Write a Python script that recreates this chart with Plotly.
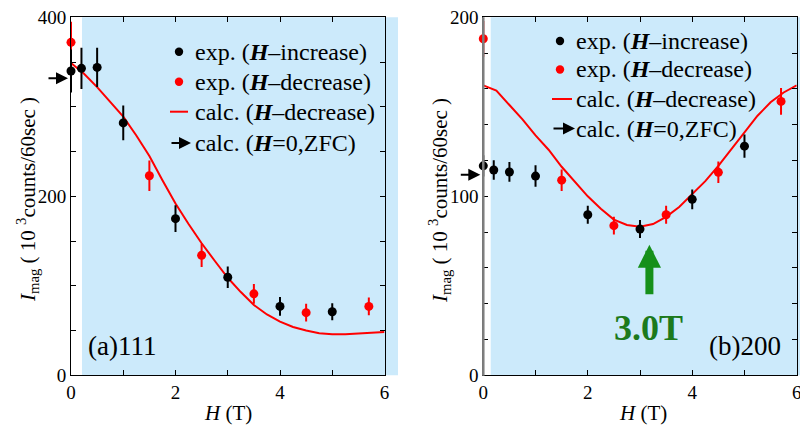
import plotly.graph_objects as go

W, H = 800, 426
FONT = "Liberation Serif"

# ---------------- data: panel (a) 111 ----------------
a_inc_x = [0, 0.2, 0.5, 1, 2, 3, 4, 5]
a_inc_y = [340, 343, 344, 282, 175, 109.5, 77, 71]
a_inc_err = [24, 23, 22, 19.5, 15, 12, 10.5, 9.5]

a_dec_x = [0, 1.5, 2.5, 3.5, 4.5, 5.7]
a_dec_y = [372, 223, 134, 91, 70, 77]
a_dec_err = [23, 17, 13, 11, 10, 10]

a_calc_x = [0, 0.25, 0.5, 0.75, 1, 1.25, 1.5, 1.75, 2, 2.25, 2.5, 2.75, 3,
            3.25, 3.5, 3.75, 4, 4.25, 4.5, 4.75, 5, 5.25, 5.5, 5.75, 6]
a_calc_y = [349, 337, 322, 306, 289, 268, 245, 218, 192, 169, 147.5, 128, 109,
            93, 78.5, 68, 60, 54, 50, 47, 46, 46, 46.5, 47.5, 48.5]
a_zfc = 332

# ---------------- data: panel (b) 200 ----------------
b_inc_x = [0, 0.2, 0.5, 1, 2, 3, 4, 5]
b_inc_y = [117, 114.7, 113.6, 111.3, 89.7, 81.7, 98.3, 128]
b_inc_err = [6, 5.5, 5.5, 6, 5, 5, 5.5, 6.5]

b_dec_x = [0, 1.5, 2.5, 3.5, 4.5, 5.7]
b_dec_y = [188, 109, 83.6, 89.7, 113.4, 153]
b_dec_err = [10, 6, 5, 5, 6, 7.5]

b_calc_x = a_calc_x
b_calc_y = [162, 159, 151, 143, 134, 126, 116.5, 108, 100, 93, 87, 84, 83,
            84.5, 88.5, 94, 101, 108.5, 117, 126.5, 136, 145, 152.5, 158, 162]
b_zfc = 112

x_major = [0, 2, 4, 6]
a_y_major = [0, 200, 400]
b_y_major = [0, 100, 200]

legend_rows = ["exp. (<b><i>H</i></b>–increase)",
               "exp. (<b><i>H</i></b>–decrease)",
               "calc. (<b><i>H</i></b>–decrease)",
               "calc. (<b><i>H</i></b>=0,ZFC)"]

BLUE = "#cceafb"
RED = "#ff0000"
GREEN_ARROW = "#16901a"
GREEN_TEXT = "#1c7a1c"


def px(x):
    return x / W


def py(y):
    return 1 - y / H


fig = go.Figure()

for (xa, ya, xi, yi, ei, xd, yd, ed, xc, yc) in [
    ("x", "y", a_inc_x, a_inc_y, a_inc_err, a_dec_x, a_dec_y, a_dec_err, a_calc_x, a_calc_y),
    ("x2", "y2", b_inc_x, b_inc_y, b_inc_err, b_dec_x, b_dec_y, b_dec_err, b_calc_x, b_calc_y),
]:
    fig.add_trace(go.Scatter(x=xc, y=yc, mode="lines", line=dict(color=RED, width=2),
                             xaxis=xa, yaxis=ya, showlegend=False, cliponaxis=False))
    fig.add_trace(go.Scatter(x=xd, y=yd, mode="markers",
                             marker=dict(color=RED, size=9),
                             error_y=dict(type="data", array=ed, color=RED, thickness=2, width=0),
                             xaxis=xa, yaxis=ya, showlegend=False, cliponaxis=False))
    fig.add_trace(go.Scatter(x=xi, y=yi, mode="markers",
                             marker=dict(color="black", size=9),
                             error_y=dict(type="data", array=ei, color="black", thickness=2, width=0),
                             xaxis=xa, yaxis=ya, showlegend=False, cliponaxis=False))

x_dom_a = [px(71), px(384.5)]
x_dom_b = [px(483.3), px(796.7)]
y_dom = [py(375.3), py(17.3)]

tickfont = dict(family=FONT, size=19, color="black")


def axis_style(rng, major, minor_dtick):
    return dict(range=rng, tickmode="array", tickvals=major, ticks="inside",
                ticklen=5, tickwidth=1, tickcolor="black", showline=True, linecolor="black",
                linewidth=1, mirror="allticks", showgrid=False, zeroline=False,
                tickfont=tickfont, automargin=False, ticklabeloverflow="allow",
                minor=dict(dtick=minor_dtick, ticks="inside", ticklen=5, tickwidth=1,
                           tickcolor="black", showgrid=False))


fig.update_layout(
    width=W, height=H,
    margin=dict(l=0, r=0, t=0, b=0),
    paper_bgcolor="white", plot_bgcolor="rgba(0,0,0,0)",
    showlegend=False,
    xaxis=dict(domain=x_dom_a, anchor="y", **axis_style([0, 6], x_major, 1)),
    xaxis2=dict(domain=x_dom_b, anchor="y2", **axis_style([0, 6], x_major, 1)),
    yaxis=dict(domain=y_dom, anchor="x", **axis_style([0, 400], a_y_major, 50)),
    yaxis2=dict(domain=y_dom, anchor="x2", **axis_style([0, 200], b_y_major, 20)),
)

shapes = [
    dict(type="rect", xref="paper", yref="paper", x0=px(82), x1=px(398), y0=py(375.3), y1=py(17.3),
         fillcolor=BLUE, line=dict(width=0), layer="below"),
    dict(type="rect", xref="paper", yref="paper", x0=px(490.7), x1=1.0, y0=py(375.3), y1=py(17.3),
         fillcolor=BLUE, line=dict(width=0), layer="below"),
    # gray left axis of panel (b)
    dict(type="line", xref="paper", yref="paper", x0=px(483.3), x1=px(483.3), y0=py(375.8), y1=py(17.3),
         line=dict(color="#7f7f7f", width=2.5), layer="above"),
]

annotations = []

# legends
for (dot_x, line_x0, line_x1, text_x, rows_y) in [
    (179, 170, 188, 193, [51.7, 81.7, 111.7, 143]),
    (560, 552, 572, 574, [41, 69.5, 99, 128.5]),
]:
    r = 4.2
    shapes.append(dict(type="circle", xref="paper", yref="paper",
                       x0=px(dot_x - r), x1=px(dot_x + r), y0=py(rows_y[0] + r), y1=py(rows_y[0] - r),
                       fillcolor="black", line=dict(width=0)))
    shapes.append(dict(type="circle", xref="paper", yref="paper",
                       x0=px(dot_x - r), x1=px(dot_x + r), y0=py(rows_y[1] + r), y1=py(rows_y[1] - r),
                       fillcolor=RED, line=dict(width=0)))
    shapes.append(dict(type="line", xref="paper", yref="paper",
                       x0=px(line_x0), x1=px(line_x1), y0=py(rows_y[2]), y1=py(rows_y[2]),
                       line=dict(color=RED, width=2)))
    annotations.append(dict(xref="paper", yref="paper", x=px(line_x1 + 3), y=py(rows_y[3]),
                            ax=-(line_x1 + 3 - line_x0), ay=0, text="", showarrow=True,
                            arrowhead=2, arrowsize=1.2, arrowwidth=2, arrowcolor="black"))
    for ty, txt in zip(rows_y, legend_rows):
        annotations.append(dict(xref="paper", yref="paper", x=px(text_x), y=py(ty),
                                xanchor="left", yanchor="middle", text=txt, showarrow=False,
                                font=dict(family=FONT, size=24, color="black")))

# ZFC arrows at H=0
annotations.append(dict(xref="x", yref="y", x=0, y=a_zfc, ax=-24, ay=0, text="", showarrow=True,
                        arrowhead=2, arrowsize=1.2, arrowwidth=2, arrowcolor="black", standoff=3))
annotations.append(dict(xref="x2", yref="y2", x=0, y=b_zfc, ax=-24, ay=0, text="", showarrow=True,
                        arrowhead=2, arrowsize=1.2, arrowwidth=2, arrowcolor="black", standoff=3))

# green arrow + 3.0T
annotations.append(dict(xref="x2", yref="y2", x=3.18, y=73, axref="x2", ayref="y2", ax=3.18, ay=44.5,
                        text="", showarrow=True, arrowhead=2, arrowsize=0.58, arrowwidth=8,
                        arrowcolor=GREEN_ARROW))
annotations.append(dict(xref="paper", yref="paper", x=px(648), y=py(328), text="<b>3.0T</b>",
                        showarrow=False, xanchor="center", yanchor="middle",
                        font=dict(family=FONT, size=36, color=GREEN_TEXT)))

# panel labels
annotations.append(dict(xref="paper", yref="paper", x=px(86), y=py(346), text="(a)111",
                        showarrow=False, xanchor="left", yanchor="middle",
                        font=dict(family=FONT, size=27, color="black")))
annotations.append(dict(xref="paper", yref="paper", x=px(783), y=py(346), text="(b)200",
                        showarrow=False, xanchor="right", yanchor="middle",
                        font=dict(family=FONT, size=27, color="black")))

# axis titles
ytitle = "<i>I</i><sub>mag</sub> ( 10 <sup>3</sup>counts/60sec )"
for cx in [(71 + 384.5) / 2, (483.3 + 796.7) / 2 + 3]:
    annotations.append(dict(xref="paper", yref="paper", x=px(cx), y=py(413), text="<i>H</i> (T)",
                            showarrow=False, xanchor="center", yanchor="middle",
                            font=dict(family=FONT, size=21, color="black")))
for cx in [27, 439]:
    annotations.append(dict(xref="paper", yref="paper", x=px(cx), y=py(200), text=ytitle,
                            textangle=-90, showarrow=False, xanchor="center", yanchor="middle",
                            font=dict(family=FONT, size=21, color="black")))

fig.update_layout(shapes=shapes, annotations=annotations)
fig.write_html("out.html", config={"displayModeBar": False},
               post_script="document.body.style.margin='0px';document.body.style.overflow='hidden';")
